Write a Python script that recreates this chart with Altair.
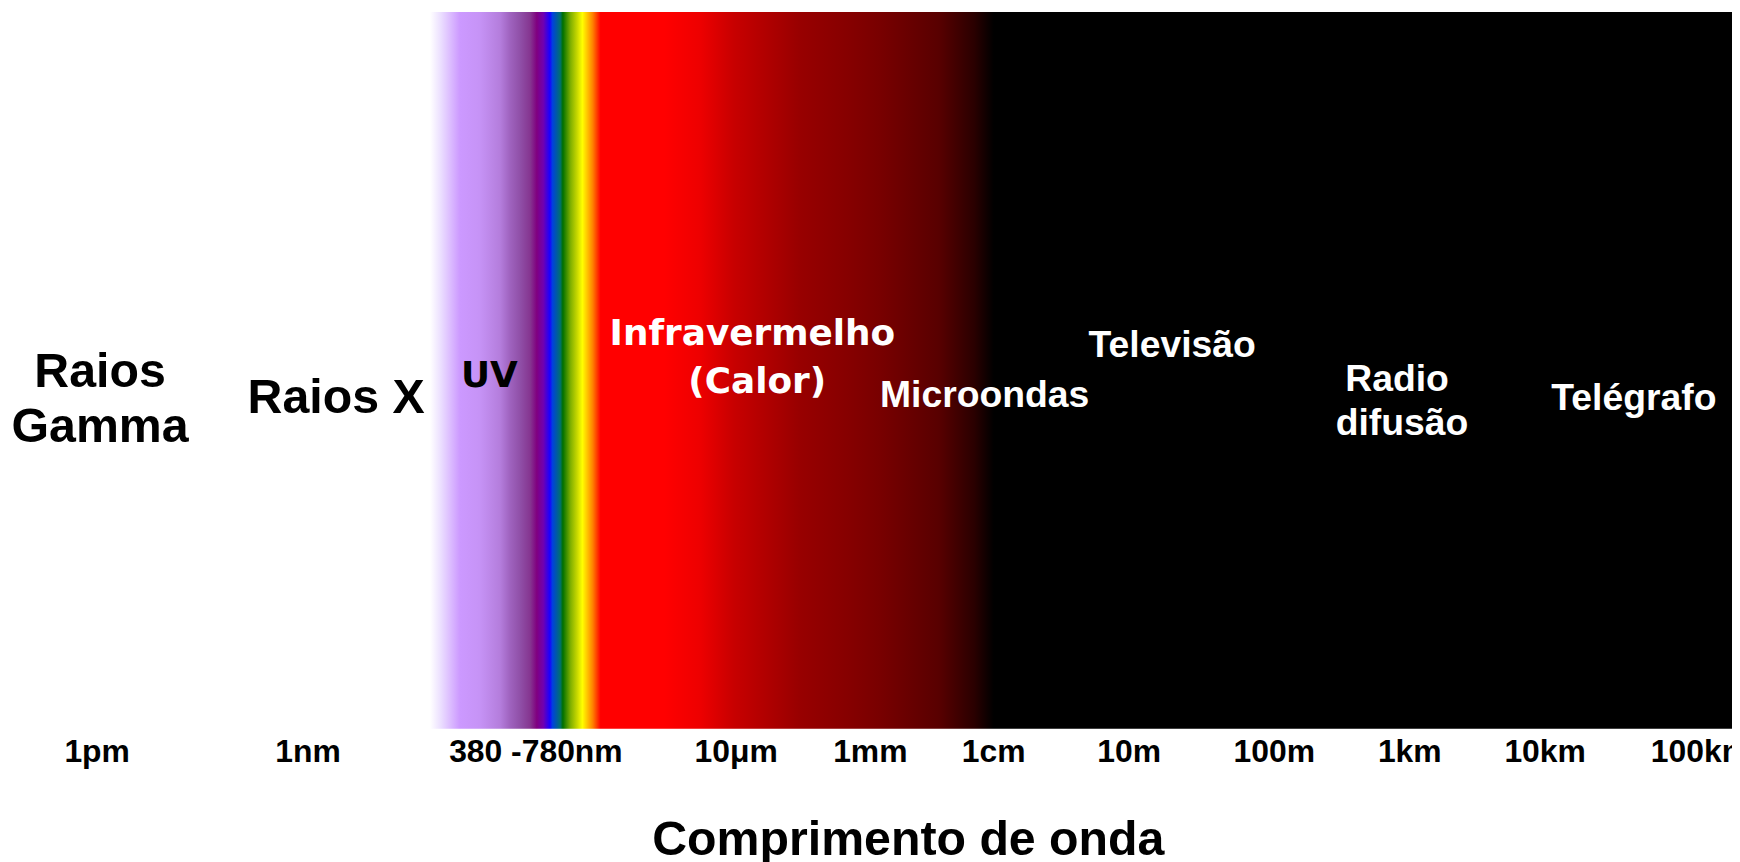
import altair as alt
import pandas as pd

# Axis ticks along the (schematic) spectrum, position units 0-100
tick_pos = [5.14, 17.37, 30.59, 42.21, 49.99, 57.14, 65.0, 73.42, 81.28, 89.13, 98.14]
tick_labels = ["1pm", "1nm", "380 -780nm", "10\u03bcm", "1mm", "1cm", "10m", "100m", "1km", "10km", "100km"]

# Region labels (one row per text line), y in 0-100 (bottom to top)
dark_text = ["Raios", "Gamma", "Raios X"]
dark_x = [5.34, 5.34, 19.03]
dark_y = [47.7, 40.0, 44.1]

uv_text = ["UV"]
uv_x = [27.92]
uv_y = [47.7]

ir_text = ["Infravermelho", "(Calor)"]
ir_x = [43.18, 43.46]
ir_y = [53.5, 46.9]

radio_text = ["Microondas", "Televis\u00e3o", "Radio", "difus\u00e3o", "Tel\u00e9grafo"]
radio_x = [56.65, 67.53, 80.57, 80.86, 94.31]
radio_y = [44.9, 51.8, 47.1, 41.0, 44.5]

# Spectrum band extent
band_start = [24.48]
band_end = [100.0]

band_df = pd.DataFrame({"start": band_start, "end": band_end, "lo": [0], "hi": [100]})

label_expr = "[" + ",".join("'" + t + "'" for t in tick_labels) + "][indexof([" + \
    ",".join(str(v) for v in tick_pos) + "], datum.value)]"

xscale = alt.Scale(domain=[0, 100], nice=False, zero=False)
yscale = alt.Scale(domain=[0, 100], nice=False, zero=False)

stops = [
    (0.000, "#ffffff"), (0.008, "#ece0ff"), (0.023, "#cc99ff"), (0.038, "#c693f6"),
    (0.054, "#b47ddc"), (0.061, "#a064c0"), (0.069, "#9050a8"), (0.077, "#853590"),
    (0.082, "#800080"), (0.087, "#7000b0"), (0.092, "#1a00ff"), (0.094, "#0040e0"),
    (0.100, "#007070"), (0.102, "#007000"), (0.108, "#80b000"), (0.113, "#c8d800"),
    (0.117, "#ffff00"), (0.121, "#ffc000"), (0.125, "#ff8000"), (0.131, "#ff0000"),
    (0.180, "#ff0000"), (0.207, "#ee0000"), (0.233, "#c80000"), (0.284, "#980000"),
    (0.323, "#850000"), (0.346, "#780000"), (0.391, "#580000"), (0.418, "#2a0000"),
    (0.433, "#000000"), (1.000, "#000000"),
]

gradient = alt.Gradient(
    gradient="linear",
    stops=[alt.GradientStop(offset=o, color=c) for o, c in stops],
    x1=0, x2=1, y1=0, y2=0,
)

band = alt.Chart(band_df).mark_rect(color=gradient).encode(
    x=alt.X("start:Q", scale=xscale,
            axis=alt.Axis(values=tick_pos, labelExpr=label_expr, domain=False, ticks=False,
                          grid=False, labelFont="Liberation Sans", labelFontWeight="bold",
                          labelFontSize=32, labelColor="#000000", labelBaseline="alphabetic",
                          labelPadding=33, labelFlush=False, labelOverlap=False,
                          title="Comprimento de onda", titleFont="Liberation Sans",
                          titleFontWeight="bold", titleFontSize=48.5, titleColor="#000000",
                          titleBaseline="alphabetic", titleAlign="center",
                          titleX=904, titleY=126)),
    x2="end:Q",
    y=alt.Y("lo:Q", scale=yscale, axis=None),
    y2="hi:Q",
)


def text_layer(texts, xs, ys, font, size, color):
    df = pd.DataFrame({"t": texts, "x": xs, "y": ys})
    return alt.Chart(df).mark_text(
        font=font, fontWeight="bold", fontSize=size, color=color,
        align="center", baseline="alphabetic",
    ).encode(
        x=alt.X("x:Q", scale=xscale),
        y=alt.Y("y:Q", scale=yscale),
        text="t:N",
    )


dark = text_layer(dark_text, dark_x, dark_y, "Liberation Sans", 48.5, "#000000")
uv = text_layer(uv_text, uv_x, uv_y, "DejaVu Sans", 36, "#000000")
ir = text_layer(ir_text, ir_x, ir_y, "DejaVu Sans", 36, "#ffffff")
radio = text_layer(radio_text, radio_x, radio_y, "Liberation Sans", 37.5, "#ffffff")

chart = alt.layer(band, dark, uv, ir, radio).properties(
    width=1732, height=720,
    autosize=alt.AutoSizeParams(type="none"),
    padding={"left": 0, "top": 2, "right": 0, "bottom": 132},
    background="#ffffff",
).configure_view(stroke=None)

chart.save("out.html", embed_options={"renderer": "svg", "actions": False})
